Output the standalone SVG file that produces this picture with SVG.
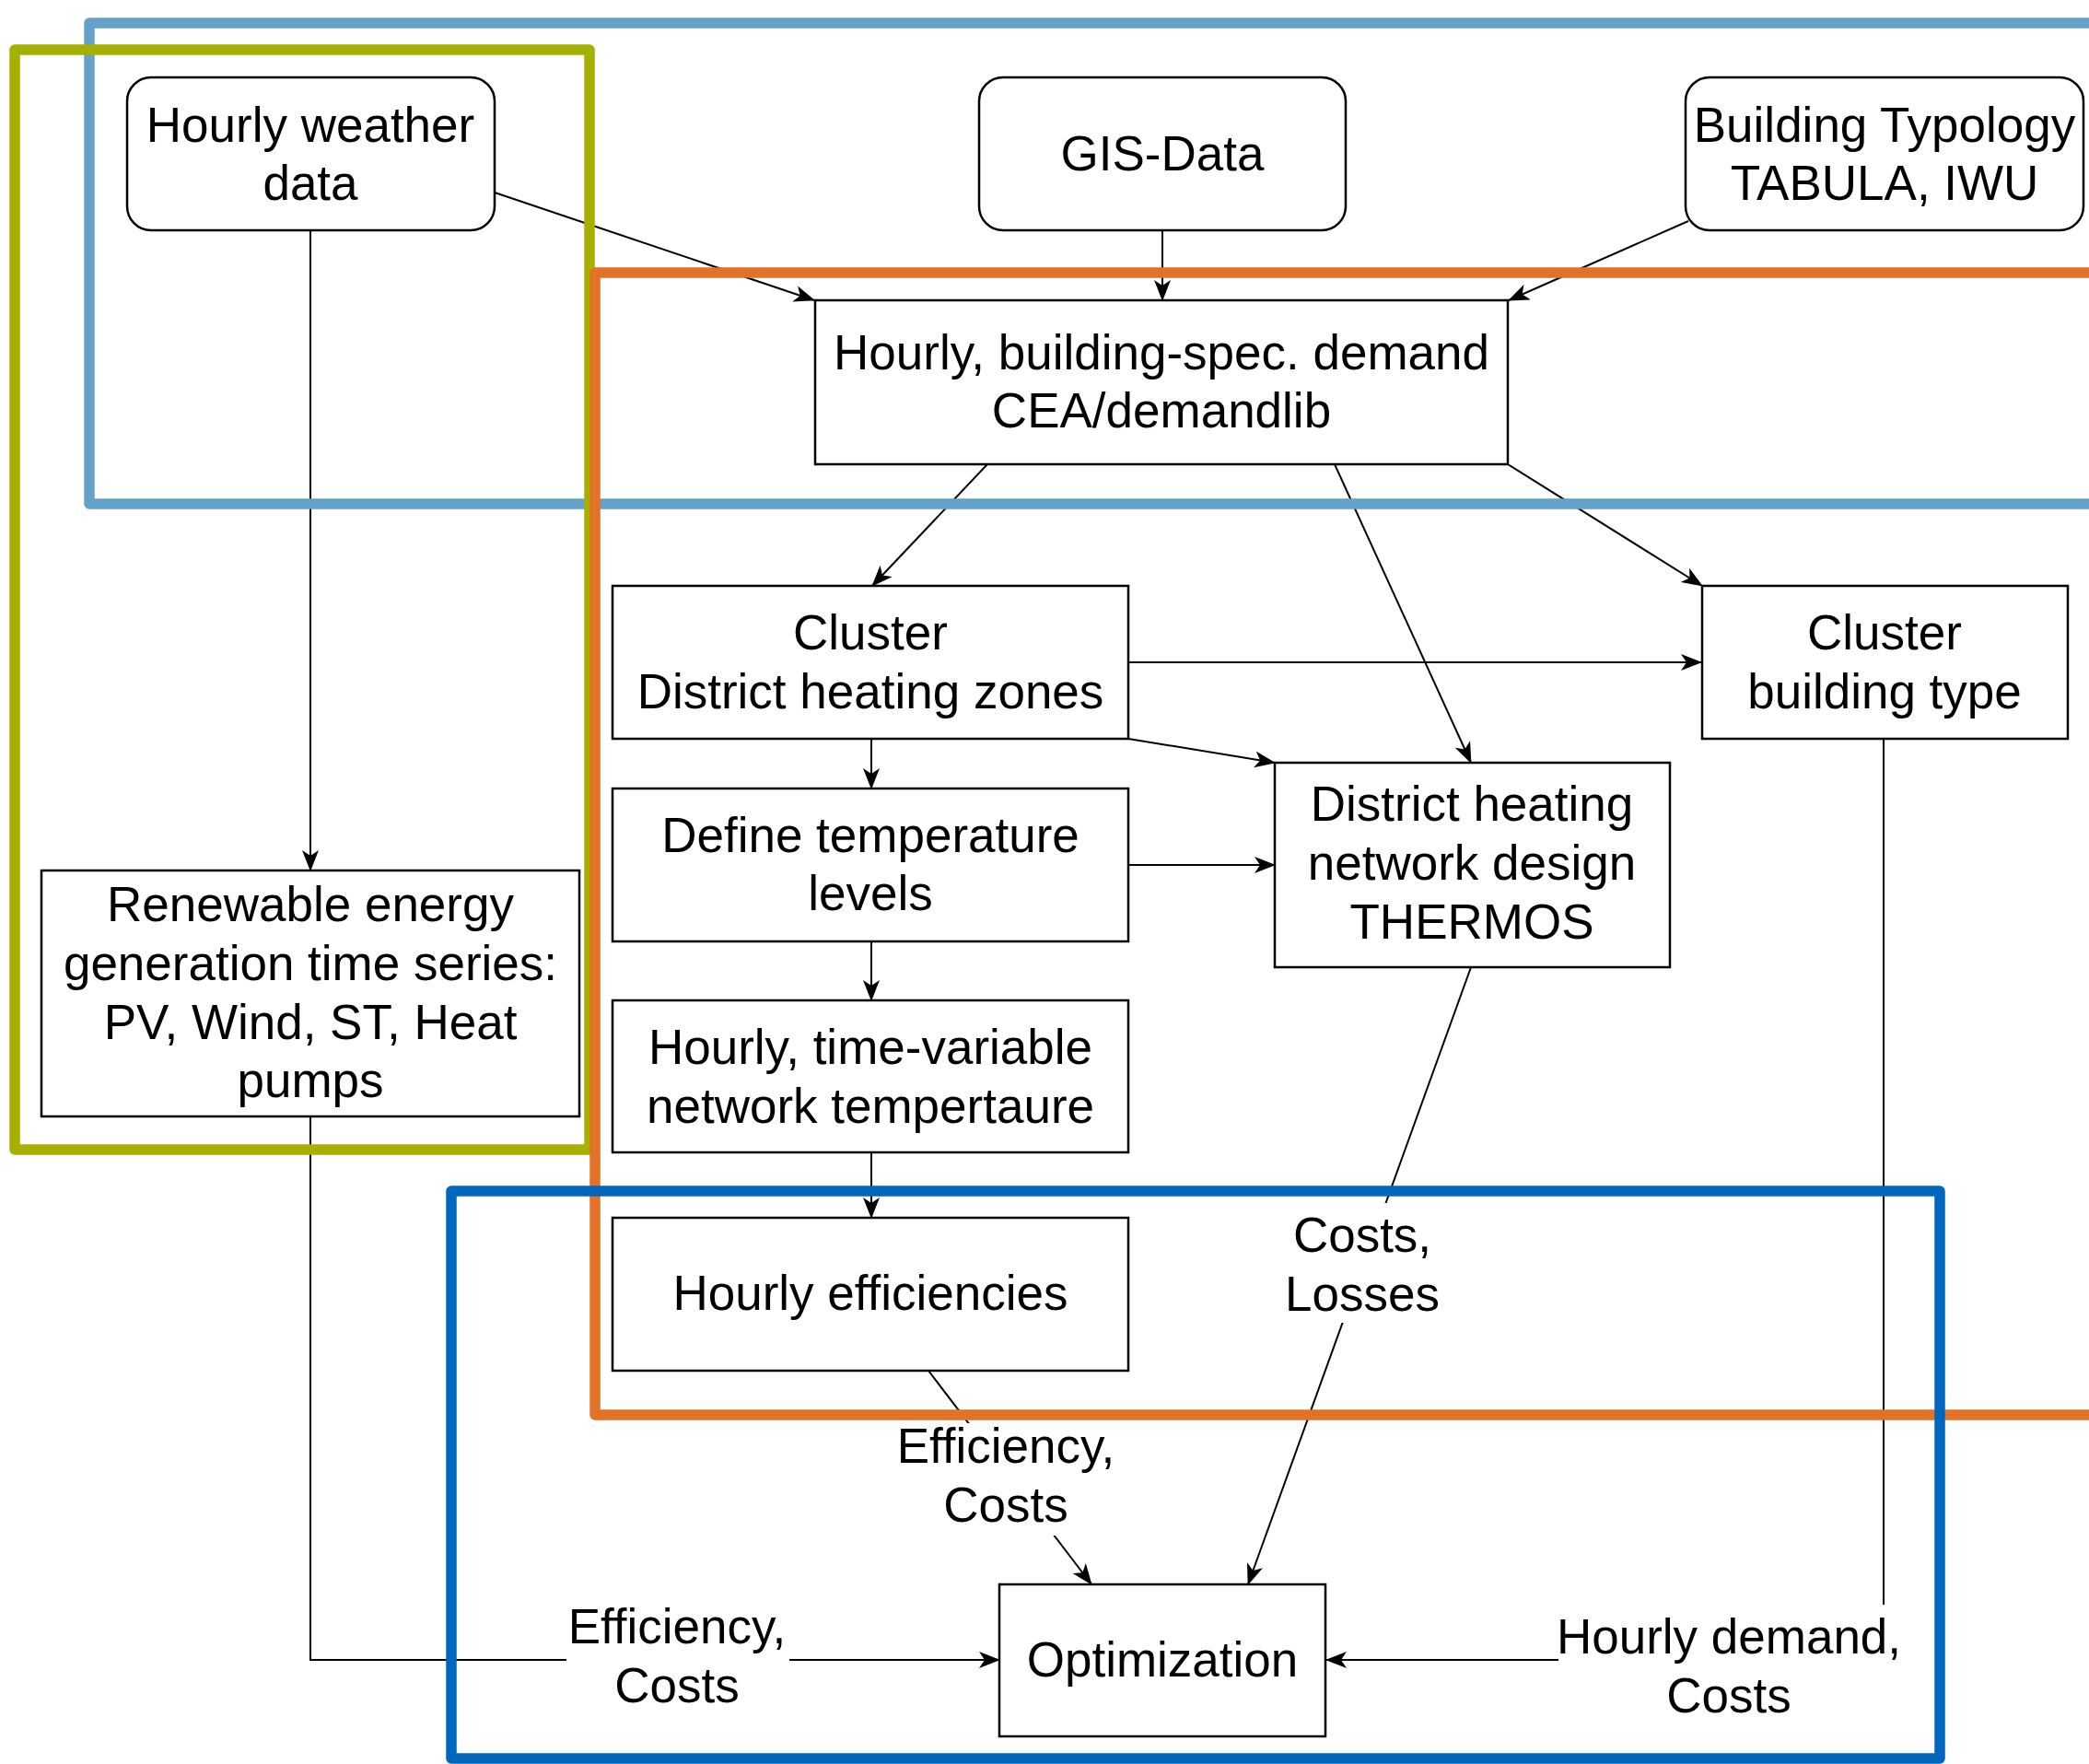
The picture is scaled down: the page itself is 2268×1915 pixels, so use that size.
<svg xmlns="http://www.w3.org/2000/svg" width="2268" height="1915" viewBox="0 0 2268 1915">
<style>
text{font-family:"Liberation Sans",Arial,Helvetica,sans-serif;font-size:53px;fill:#000;text-anchor:middle}
.node{fill:#fff;stroke:#000;stroke-width:2.5}
.edge{fill:none;stroke:#000;stroke-width:2}
.lblbg{fill:#fff;stroke:none}
.cont{fill:none;stroke-width:11.5;stroke-linejoin:round}
</style>
<defs>
<marker id="arr" markerUnits="userSpaceOnUse" markerWidth="24" markerHeight="18" viewBox="0 0 24 18" refX="22" refY="9" orient="auto">
<path d="M0,0 L23,9 L0,18 L6,9 Z" fill="#000"/>
</marker>
</defs>
<rect width="2268" height="1915" fill="#fff"/>

<g id="connectors">
<line class="edge" x1="537" y1="209" x2="884" y2="326" marker-end="url(#arr)"/>
<line class="edge" x1="1262" y1="250" x2="1262" y2="326" marker-end="url(#arr)"/>
<line class="edge" x1="1833" y1="240" x2="1638" y2="326" marker-end="url(#arr)"/>
<line class="edge" x1="337" y1="250" x2="337" y2="945" marker-end="url(#arr)"/>
<line class="edge" x1="1072" y1="504" x2="947" y2="636" marker-end="url(#arr)"/>
<line class="edge" x1="1449" y1="504" x2="1597" y2="828" marker-end="url(#arr)"/>
<line class="edge" x1="1637" y1="504" x2="1848" y2="636" marker-end="url(#arr)"/>
<line class="edge" x1="1225" y1="719" x2="1847" y2="719" marker-end="url(#arr)"/>
<line class="edge" x1="1225" y1="802" x2="1384" y2="828" marker-end="url(#arr)"/>
<line class="edge" x1="946" y1="802" x2="946" y2="856" marker-end="url(#arr)"/>
<line class="edge" x1="1225" y1="939" x2="1384" y2="939" marker-end="url(#arr)"/>
<line class="edge" x1="946" y1="1022" x2="946" y2="1086" marker-end="url(#arr)"/>
<line class="edge" x1="946" y1="1251" x2="946" y2="1322" marker-end="url(#arr)"/>
<line class="edge" x1="1008" y1="1488" x2="1185" y2="1720" marker-end="url(#arr)"/>
<line class="edge" x1="1597" y1="1050" x2="1355" y2="1720" marker-end="url(#arr)"/>
<polyline class="edge" points="337,1212 337,1802 1085,1802" marker-end="url(#arr)"/>
<polyline class="edge" points="2045,801 2045,1802 1440,1802" marker-end="url(#arr)"/>
</g>

<g id="containers">
<rect class="cont" x="97" y="25" width="2200" height="522" stroke="#66A1C9"/>
<rect class="cont" x="16" y="54" width="624" height="1194" stroke="#A5B000"/>
<rect class="cont" x="646" y="296" width="1650" height="1240" stroke="#E17228"/>
<rect class="cont" x="490" y="1293" width="1616" height="616" stroke="#0066BE"/>
</g>

<g id="edge-labels">
<g id="lbl-eff-costs-mid">
<rect class="lblbg" x="1008" y="1545" width="170" height="122"/>
<text x="1092" y="1588">Efficiency,</text>
<text x="1092" y="1652">Costs</text>
</g>
<g id="lbl-costs-losses">
<rect class="lblbg" x="1395" y="1306" width="172" height="130"/>
<text x="1479" y="1359">Costs,</text>
<text x="1479" y="1423">Losses</text>
</g>
<g id="lbl-eff-costs-left">
<rect class="lblbg" x="615" y="1735" width="242" height="130"/>
<text x="735" y="1784">Efficiency,</text>
<text x="735" y="1848">Costs</text>
</g>
<g id="lbl-demand-costs">
<rect class="lblbg" x="1692" y="1742" width="372" height="130"/>
<text x="1877" y="1795">Hourly demand,</text>
<text x="1877" y="1859">Costs</text>
</g>
</g>

<g id="node-weather">
<rect class="node" x="138" y="84" width="399" height="166" rx="26"/>
<text x="337" y="154">Hourly weather</text>
<text x="337" y="217">data</text>
</g>
<g id="node-gis">
<rect class="node" x="1063" y="84" width="398" height="166" rx="26"/>
<text x="1262" y="185">GIS-Data</text>
</g>
<g id="node-typology">
<rect class="node" x="1830" y="84" width="432" height="166" rx="26"/>
<text x="2046" y="154">Building Typology</text>
<text x="2046" y="217">TABULA, IWU</text>
</g>
<g id="node-demand">
<rect class="node" x="885" y="326" width="752" height="178"/>
<text x="1261" y="401">Hourly, building-spec. demand</text>
<text x="1261" y="464">CEA/demandlib</text>
</g>
<g id="node-renewable">
<rect class="node" x="45" y="945" width="584" height="267"/>
<text x="337" y="1000">Renewable energy</text>
<text x="337" y="1064">generation time series:</text>
<text x="337" y="1128">PV, Wind, ST, Heat</text>
<text x="337" y="1191">pumps</text>
</g>
<g id="node-cluster-dh">
<rect class="node" x="665" y="636" width="560" height="166"/>
<text x="945" y="705">Cluster</text>
<text x="945" y="769">District heating zones</text>
</g>
<g id="node-cluster-bt">
<rect class="node" x="1848" y="636" width="397" height="166"/>
<text x="2046" y="705">Cluster</text>
<text x="2046" y="769">building type</text>
</g>
<g id="node-define-temp">
<rect class="node" x="665" y="856" width="560" height="166"/>
<text x="945" y="925">Define temperature</text>
<text x="945" y="988">levels</text>
</g>
<g id="node-thermos">
<rect class="node" x="1384" y="828" width="429" height="222"/>
<text x="1598" y="891">District heating</text>
<text x="1598" y="955">network design</text>
<text x="1598" y="1019">THERMOS</text>
</g>
<g id="node-timevar">
<rect class="node" x="665" y="1086" width="560" height="165"/>
<text x="945" y="1155">Hourly, time-variable</text>
<text x="945" y="1219">network tempertaure</text>
</g>
<g id="node-efficiencies">
<rect class="node" x="665" y="1322" width="560" height="166"/>
<text x="945" y="1422">Hourly efficiencies</text>
</g>
<g id="node-optimization">
<rect class="node" x="1085" y="1720" width="354" height="165"/>
<text x="1262" y="1820">Optimization</text>
</g>
</svg>
